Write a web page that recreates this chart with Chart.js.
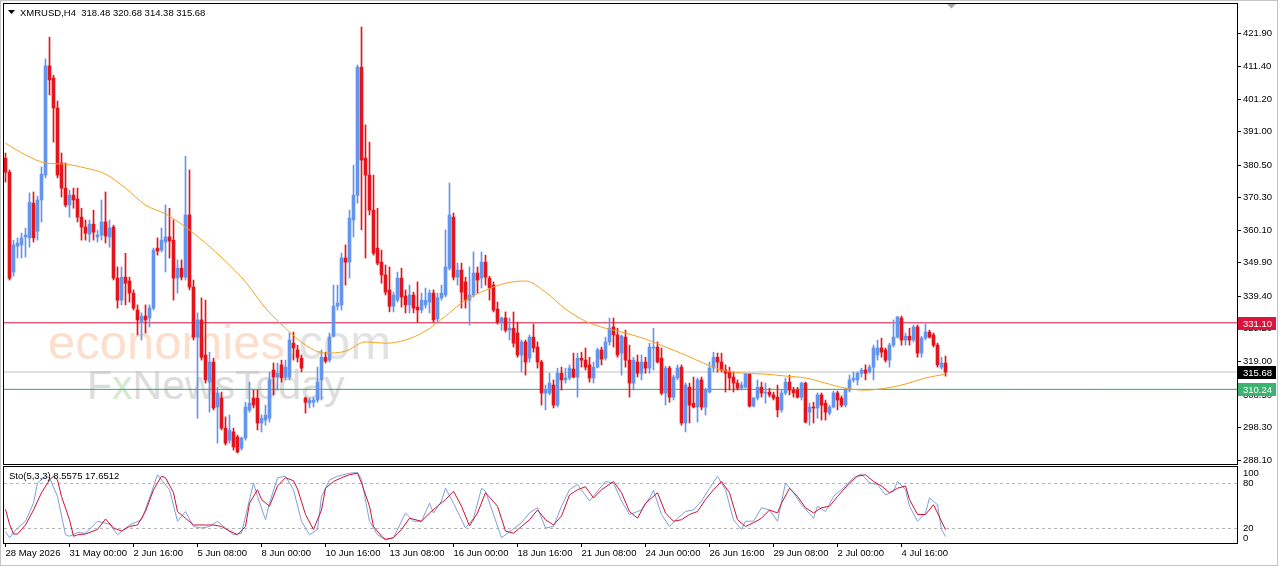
<!DOCTYPE html>
<html>
<head>
<meta charset="utf-8">
<title>XMRUSD H4</title>
<script src="https://cdn.jsdelivr.net/npm/chart.js@4.4.1/dist/chart.umd.min.js"></script>
<style>
  html, body { margin: 0; padding: 0; background: #fff; }
  #wrap { position: relative; width: 1280px; height: 567px; overflow: hidden; background: #fff; }
  #edge { position: absolute; left: 0; top: 0; width: 1276px; height: 564px; border: 1px solid #c4c4c4; z-index: 0; }
  #mainChart { position: absolute; left: 0; top: 0; z-index: 2; }
  #stochChart { position: absolute; left: 0; top: 464px; z-index: 2; }
  .mark { position: absolute; z-index: 1; white-space: nowrap; line-height: 1; font-family: "Liberation Sans", Arial, sans-serif; }
</style>
</head>
<body>
<div id="wrap">
  <div id="edge"></div>
  <div class="mark" style="left:48px; top:318px; font-size:49px; color:#fbdfcc;">economies<span style="color:#e2e2e2">.com</span></div>
  <div class="mark" style="left:87px; top:365px; font-size:41px; color:#dcdcdc;">F<span style="color:#d2e9d2">x</span>NewsToday</div>
  <canvas id="mainChart" width="1280" height="466"></canvas>
  <canvas id="stochChart" width="1280" height="103"></canvas>
</div>
<script>
// ---- candles (H4) ----
const candleOpen = [
  382.7, 378.3, 347.0, 355.1, 355.5, 358.0, 357.7, 368.6, 359.8, 369.6,
  377.4, 411.6, 407.8, 398.4, 381.2, 373.3, 368.0, 371.1, 369.9, 364.2,
  361.1, 358.9, 362.0, 358.0, 358.6, 362.7, 358.0, 361.1, 345.1, 338.2,
  345.4, 344.2, 340.4, 335.1, 331.3, 333.2, 332.6, 335.7, 354.5, 353.9,
  356.4, 358.0, 357.0, 345.1, 348.2, 345.4, 364.9, 342.3, 326.6, 332.0,
  321.0, 312.5, 318.8, 304.7, 307.5, 298.1, 294.3, 296.9, 295.3, 291.8,
  295.0, 303.7, 307.5, 307.5, 299.7, 300.6, 301.2, 316.3, 314.1, 317.9,
  314.1, 314.1, 324.7, 322.6, 320.0, 307.5, 305.9, 306.2, 306.9, 313.2,
  320.3, 319.4, 326.9, 336.3, 336.7, 351.4, 350.1, 363.3, 371.1, 411.2,
  382.7, 377.4, 366.4, 354.5, 350.1, 346.1, 341.4, 336.3, 338.2, 345.1,
  339.5, 336.7, 339.8, 336.0, 335.1, 336.7, 337.6, 340.4, 332.3, 338.9,
  339.8, 348.2, 364.2, 345.4, 347.6, 343.9, 338.2, 339.8, 346.7, 345.1,
  350.1, 345.1, 342.9, 335.4, 331.3, 332.6, 328.8, 329.4, 327.9, 321.0,
  325.1, 320.0, 326.6, 323.5, 318.8, 309.1, 309.1, 311.6, 305.3, 315.3,
  313.2, 313.8, 316.6, 314.1, 320.0, 319.4, 317.9, 313.8, 317.2, 322.6,
  320.0, 325.1, 329.8, 327.3, 321.6, 326.6, 319.4, 312.2, 318.8, 315.3,
  318.8, 316.9, 323.2, 323.5, 320.0, 309.1, 316.9, 307.8, 313.8, 317.2,
  299.7, 310.9, 305.9, 304.7, 313.2, 304.7, 309.4, 316.9, 320.3, 318.8,
  316.3, 315.7, 314.1, 312.2, 310.6, 310.9, 315.0, 305.0, 307.5, 310.9,
  309.1, 309.4, 308.5, 307.8, 303.8, 309.1, 312.5, 310.0, 310.0, 307.8,
  312.2, 303.1, 304.7, 304.4, 308.5, 305.9, 302.8, 304.7, 309.1, 307.5,
  305.3, 310.0, 313.2, 313.2, 315.3, 316.3, 315.7, 317.2, 321.0, 323.2,
  322.6, 319.4, 324.1, 326.6, 332.6, 325.7, 326.9, 325.7, 329.8, 321.6,
  326.3, 328.2, 327.3, 324.1, 317.2, 318.48
];
const candleHigh = [
  384.3, 379.0, 357.0, 357.7, 359.2, 360.8, 371.8, 372.1, 370.8, 379.9,
  413.8, 420.6, 408.7, 400.6, 384.3, 381.2, 372.7, 373.3, 373.3, 367.0,
  363.3, 363.3, 366.4, 360.2, 369.6, 372.1, 363.3, 361.7, 348.6, 348.6,
  352.9, 345.4, 341.4, 336.7, 334.2, 336.7, 336.7, 354.5, 357.7, 360.8,
  368.0, 367.0, 363.3, 350.8, 350.8, 383.3, 379.0, 344.5, 334.2, 338.9,
  338.2, 321.9, 320.0, 310.9, 309.4, 301.6, 302.2, 298.1, 295.9, 295.3,
  306.2, 312.5, 310.0, 310.0, 302.2, 305.3, 315.7, 318.5, 318.5, 319.4,
  319.4, 327.9, 328.2, 324.1, 321.0, 307.8, 307.5, 307.8, 317.2, 322.6,
  321.9, 327.9, 342.9, 342.9, 352.9, 355.5, 366.4, 380.5, 411.9, 423.8,
  393.1, 387.7, 377.4, 367.0, 353.9, 349.2, 348.6, 340.7, 347.0, 348.2,
  341.4, 342.9, 340.7, 343.9, 340.4, 342.0, 341.4, 341.4, 340.4, 342.9,
  360.2, 374.9, 365.5, 349.8, 349.8, 345.4, 348.6, 353.3, 348.6, 353.3,
  352.3, 345.7, 343.9, 337.6, 332.9, 334.5, 332.6, 334.5, 331.3, 325.7,
  325.7, 327.3, 330.7, 325.1, 319.4, 311.6, 315.3, 313.2, 316.9, 317.2,
  316.9, 317.9, 321.6, 321.6, 321.9, 323.2, 320.3, 318.8, 323.2, 323.5,
  326.6, 332.6, 332.6, 329.4, 327.3, 328.8, 324.1, 320.3, 321.0, 321.0,
  320.3, 324.7, 329.4, 325.1, 323.2, 317.5, 317.5, 314.7, 317.9, 317.9,
  312.2, 312.2, 314.1, 313.8, 314.1, 310.6, 318.8, 321.9, 321.6, 321.6,
  317.9, 317.2, 315.7, 313.2, 312.5, 315.3, 315.3, 307.8, 313.2, 312.5,
  312.2, 310.6, 309.4, 311.6, 310.0, 313.8, 314.7, 310.9, 310.9, 312.5,
  312.5, 305.9, 306.2, 309.1, 309.1, 306.9, 305.3, 309.7, 309.7, 308.2,
  310.6, 314.7, 315.7, 315.7, 316.9, 317.9, 317.9, 324.1, 325.7, 326.3,
  323.2, 324.7, 332.0, 333.2, 333.2, 327.9, 329.4, 330.4, 330.4, 326.9,
  330.7, 328.8, 327.9, 324.7, 320.3, 320.68
];
const candleLow = [
  375.2, 344.5, 345.7, 351.4, 351.4, 351.7, 354.8, 356.4, 357.0, 362.7,
  376.5, 402.5, 387.7, 376.5, 370.5, 367.4, 364.2, 367.0, 362.7, 357.0,
  357.0, 356.4, 357.0, 356.4, 357.0, 356.1, 354.8, 344.5, 335.7, 336.7,
  336.7, 337.6, 335.1, 327.3, 325.7, 327.9, 329.8, 335.1, 352.3, 353.3,
  347.0, 351.4, 338.2, 340.4, 344.5, 344.5, 341.4, 325.7, 301.2, 319.4,
  312.2, 303.1, 303.8, 293.4, 297.5, 292.8, 293.4, 291.2, 290.3, 291.2,
  294.3, 303.1, 304.4, 297.5, 296.9, 299.0, 300.0, 308.5, 310.0, 312.5,
  313.2, 313.2, 319.4, 318.8, 315.7, 302.8, 304.4, 304.7, 306.2, 306.9,
  318.5, 318.8, 326.6, 335.1, 335.1, 342.9, 345.1, 358.0, 368.6, 360.2,
  351.4, 364.9, 352.3, 349.2, 343.5, 339.8, 334.5, 334.5, 337.6, 336.0,
  334.2, 334.2, 334.2, 331.3, 334.2, 335.7, 334.2, 331.3, 331.0, 338.2,
  339.2, 347.6, 344.5, 342.9, 335.7, 335.7, 330.4, 339.2, 340.4, 342.0,
  342.9, 338.2, 334.5, 330.7, 328.8, 328.2, 325.7, 323.5, 320.3, 315.7,
  314.7, 318.8, 321.9, 316.9, 305.3, 303.8, 308.5, 304.4, 304.7, 310.0,
  312.2, 313.2, 313.8, 307.8, 317.2, 316.3, 312.5, 312.2, 316.9, 317.9,
  319.4, 324.1, 323.5, 320.3, 314.7, 317.2, 307.8, 310.0, 314.1, 313.2,
  315.3, 315.3, 316.3, 318.5, 308.5, 305.3, 306.2, 306.9, 313.2, 299.0,
  296.9, 299.7, 304.4, 300.0, 303.8, 302.2, 309.1, 315.7, 315.7, 315.7,
  309.4, 310.0, 309.4, 310.0, 310.0, 310.6, 304.7, 304.7, 306.9, 307.8,
  305.9, 307.8, 306.9, 301.6, 303.1, 308.5, 308.5, 307.8, 307.5, 306.9,
  299.7, 299.0, 299.7, 301.2, 300.6, 300.6, 302.2, 304.4, 303.8, 304.7,
  304.7, 309.4, 312.5, 311.6, 314.1, 313.2, 315.3, 313.2, 319.4, 320.3,
  318.8, 317.2, 323.5, 326.3, 324.1, 324.1, 324.1, 325.1, 320.3, 320.3,
  325.7, 326.3, 323.5, 317.2, 316.6, 314.38
];
const candleClose = [
  378.3, 345.1, 355.5, 356.1, 357.7, 358.6, 368.9, 357.7, 369.6, 377.7,
  411.6, 407.2, 398.4, 377.4, 373.3, 368.0, 371.1, 369.6, 364.2, 361.1,
  359.2, 362.0, 359.5, 358.6, 362.7, 358.3, 360.8, 345.1, 338.2, 345.4,
  343.5, 340.4, 335.7, 332.0, 333.2, 332.0, 335.7, 353.9, 353.6, 357.0,
  358.0, 356.7, 345.1, 348.2, 345.4, 364.9, 342.3, 326.6, 332.0, 320.3,
  313.2, 318.8, 304.4, 309.1, 298.1, 293.4, 297.5, 292.2, 290.6, 295.0,
  304.7, 305.9, 305.3, 299.7, 301.2, 302.2, 313.2, 314.1, 315.3, 313.8,
  317.2, 325.7, 323.2, 320.3, 316.9, 306.2, 306.9, 306.9, 312.5, 320.3,
  319.1, 326.6, 336.3, 337.3, 351.4, 350.1, 363.9, 371.1, 411.2, 382.1,
  377.4, 366.4, 352.9, 349.8, 346.1, 340.7, 336.3, 339.8, 345.1, 339.2,
  336.7, 339.8, 335.7, 335.1, 338.2, 338.2, 340.4, 332.0, 338.9, 340.4,
  348.6, 364.9, 345.4, 347.6, 340.7, 338.2, 339.8, 346.7, 344.5, 350.1,
  345.4, 342.0, 335.1, 331.3, 332.6, 328.8, 329.4, 324.7, 321.0, 325.1,
  318.8, 326.6, 323.2, 318.8, 309.1, 310.0, 312.2, 305.3, 315.3, 313.2,
  313.8, 316.9, 314.1, 320.0, 319.4, 317.2, 313.8, 317.2, 322.6, 319.7,
  325.1, 329.4, 327.3, 321.0, 326.9, 319.4, 312.2, 319.4, 315.3, 318.8,
  316.9, 323.5, 323.5, 318.8, 309.1, 316.9, 307.8, 314.1, 316.9, 299.7,
  311.6, 305.3, 304.7, 313.2, 304.7, 310.0, 316.9, 320.3, 318.8, 316.3,
  315.3, 313.8, 312.2, 310.6, 311.6, 315.0, 305.0, 307.5, 310.9, 309.1,
  309.4, 308.5, 307.5, 303.8, 309.1, 312.5, 310.0, 309.1, 307.8, 312.2,
  300.0, 304.7, 304.4, 308.5, 305.3, 303.1, 304.7, 309.1, 306.9, 305.3,
  310.0, 313.2, 313.8, 315.3, 316.3, 315.3, 317.2, 323.2, 323.2, 321.9,
  319.4, 324.1, 326.6, 332.9, 325.7, 326.9, 325.7, 329.8, 321.6, 326.3,
  328.2, 326.6, 324.1, 317.9, 318.5, 315.68
];

// ---- moving average (orange), sampled every 5 bars ----
const maIdx = [0, 5, 10, 15, 20, 25, 30, 35, 40, 45, 50, 55, 60, 65, 70, 75, 80, 85, 90, 95,
  100, 105, 110, 115, 120, 125, 130, 135, 140, 145, 150, 155, 160, 165, 170, 175, 180, 185, 190, 195,
  200, 205, 210, 215, 220, 225, 230, 235];
const maVal = [387.4, 383.7, 381.2, 380.8, 379.6, 377.7, 373.3, 368.0, 365.2, 361.1,
  356.1, 350.4, 343.9, 335.7, 329.4, 324.1, 321.6, 322.2, 325.1, 324.7,
  325.7, 328.5, 333.2, 338.2, 341.3, 343.5, 344.2, 340.7, 335.4, 331.6,
  329.4, 327.9, 326.0, 323.5, 321.0, 318.2, 316.0, 315.3, 315.0, 314.4,
  313.8, 312.2, 310.6, 310.0, 310.6, 311.9, 313.8, 315.0];

// ---- stochastic (5,3,3) ----
const kIdx = [0, 1, 3, 5, 7, 8, 10, 11, 13, 15, 16, 18, 20, 23, 26, 28, 31, 34, 36, 38,
  39, 41, 43, 45, 47, 49, 51, 53, 55, 57, 59, 62, 63, 65, 66, 68, 70, 72, 74, 76,
  78, 79, 81, 83, 86, 88, 89, 91, 93, 95, 97, 100, 102, 104, 106, 107, 109, 110, 112, 115,
  117, 119, 120, 122, 124, 126, 129, 131, 133, 135, 137, 139, 141, 143, 146, 148, 150, 152, 154, 156,
  158, 159, 161, 162, 164, 166, 168, 170, 172, 174, 176, 178, 180, 182, 184, 185, 187, 189, 191, 193,
  195, 197, 199, 202, 203, 205, 207, 210, 212, 214, 216, 218, 220, 222, 223, 225, 226, 228, 230, 231,
  233, 234, 235];
const kVal = [15, 7, 20, 29, 53, 80, 89, 87, 62, 11, 9, 14, 13, 29, 25, 11, 24, 31, 60, 91,
  84, 71, 29, 42, 22, 20, 22, 29, 20, 11, 13, 80, 62, 31, 53, 87, 89, 71, 29, 11,
  18, 62, 84, 89, 93, 94, 85, 29, 11, 4, 7, 40, 29, 29, 53, 40, 56, 73, 53, 20,
  33, 73, 69, 38, 7, 15, 27, 40, 47, 20, 22, 49, 71, 78, 56, 69, 82, 80, 56, 38,
  42, 44, 60, 70, 38, 22, 33, 42, 44, 56, 73, 89, 71, 31, 18, 29, 29, 47, 44, 29,
  80, 67, 51, 33, 49, 42, 62, 76, 87, 92, 80, 78, 64, 69, 82, 71, 49, 29, 40, 60,
  51, 18, 8.5575];
const dIdx = [0, 1, 2, 3, 5, 7, 9, 11, 12, 13, 14, 16, 17, 18, 20, 23, 25, 27, 29, 31,
  33, 35, 37, 39, 40, 42, 43, 45, 47, 50, 52, 54, 56, 58, 60, 61, 63, 64, 66, 68,
  70, 72, 73, 75, 77, 79, 80, 82, 84, 86, 88, 89, 91, 92, 94, 95, 97, 99, 101, 104,
  106, 108, 110, 112, 114, 116, 118, 120, 123, 125, 127, 129, 131, 133, 135, 137, 139, 141, 143, 145,
  147, 149, 152, 154, 156, 158, 160, 163, 165, 167, 169, 171, 173, 175, 177, 179, 181, 183, 185, 187,
  189, 191, 193, 194, 196, 198, 200, 202, 204, 206, 208, 211, 213, 215, 217, 219, 221, 223, 225, 226,
  228, 230, 232, 233, 235];
const dVal = [45, 25, 12, 12, 24, 44, 67, 84, 89, 84, 62, 31, 9, 11, 12, 18, 32, 20, 16, 22,
  24, 42, 71, 89, 87, 67, 42, 33, 24, 24, 24, 22, 16, 11, 22, 53, 71, 58, 49, 76,
  87, 83, 72, 38, 18, 44, 73, 82, 87, 91, 93, 80, 49, 22, 9, 5, 7, 18, 33, 29,
  40, 49, 58, 69, 49, 23, 40, 67, 49, 16, 13, 22, 31, 44, 31, 24, 36, 64, 71, 75,
  60, 71, 82, 67, 42, 33, 53, 67, 40, 29, 31, 38, 42, 58, 71, 82, 67, 31, 22, 27,
  33, 44, 40, 53, 73, 62, 47, 40, 47, 49, 62, 80, 89, 91, 82, 76, 67, 73, 76, 58,
  38, 38, 51, 40, 17.6512];

// ---- axes and levels ----
const priceTicks = [421.90, 411.40, 401.20, 391.00, 380.50, 370.30, 360.10, 349.90, 339.40, 329.20, 319.00, 308.50, 298.30, 288.10];
const timeTickIdx = [0, 16, 32, 48, 64, 80, 96, 112, 128, 144, 160, 176, 192, 208, 224];
const timeTickText = ['28 May 2026', '31 May 00:00', '2 Jun 16:00', '5 Jun 08:00', '8 Jun 00:00', '10 Jun 16:00',
  '13 Jun 08:00', '16 Jun 00:00', '18 Jun 16:00', '21 Jun 08:00', '24 Jun 00:00', '26 Jun 16:00',
  '29 Jun 08:00', '2 Jul 00:00', '4 Jul 16:00'];
const levelPrices = [331.10, 315.68, 310.24];
const stochLevels = [80, 20];
const stochLabels = [100, 80, 20, 0];
const headerText = 'XMRUSD,H4  318.48 320.68 314.38 315.68';
const stochText = 'Sto(5,3,3) 8.5575 17.6512';

// styles
const BULL = '#6495ed';
const BEAR = '#e3141b';
const levelLineColors = ['#dc143c', '#c0c0c0', '#2eaa5e'];
const levelBoxColors = ['#dc143c', '#000000', '#3cb371'];
const FONT = '"Liberation Sans", Arial, sans-serif';
const X_MIN = -0.375, X_MAX = 307.875;

Chart.defaults.font.family = FONT;
Chart.defaults.font.size = 9.5;
Chart.defaults.color = '#000';

const barIdx = candleOpen.map((_, i) => i);
const candleColors = barIdx.map(i => candleClose[i] >= candleOpen[i] ? BULL : BEAR);
const wickData = barIdx.map(i => ({ x: i, y: [candleLow[i], candleHigh[i]] }));
const bodyData = barIdx.map(i => ({ x: i, y: [candleOpen[i], candleClose[i]] }));
const maData = maIdx.map((x, j) => ({ x: x, y: maVal[j] }));
const kData = kIdx.map((x, j) => ({ x: x, y: kVal[j] }));
const dData = dIdx.map((x, j) => ({ x: x, y: dVal[j] }));

// horizontal price levels as line datasets across the whole axis range
const levelSets = levelPrices.map((p, k) => ({
    type: 'line',
    data: [{ x: X_MIN, y: p }, { x: X_MAX, y: p }],
    borderColor: levelLineColors[k],
    borderWidth: 1,
    pointRadius: 0
}));

function drawFrame(ctx, a) {
    ctx.strokeStyle = '#000';
    ctx.lineWidth = 1;
    ctx.strokeRect(a.left - 0.5, a.top - 0.5, a.right - a.left + 1, a.bottom - a.top + 1);
}

// price boxes, header
const mainDecor = {
    id: 'mainDecor',
    afterDraw(chart) {
        const { ctx, chartArea: a, scales: { y } } = chart;
        ctx.save();
        drawFrame(ctx, a);

        ctx.font = '9.5px ' + FONT;
        ctx.textBaseline = 'middle';
        levelPrices.forEach((p, k) => {
            const py = Math.round(y.getPixelForValue(p));
            ctx.fillStyle = levelBoxColors[k];
            ctx.fillRect(a.right + 1, py - 6, 38, 13);
            ctx.fillStyle = '#fff';
            ctx.fillText(p.toFixed(2), a.right + 6, py + 1);
        });

        // header line with the little dropdown arrow
        ctx.fillStyle = '#000';
        ctx.beginPath();
        ctx.moveTo(8, 10); ctx.lineTo(15, 10); ctx.lineTo(11.5, 14);
        ctx.closePath();
        ctx.fill();
        ctx.fillText(headerText, 20, 13);

        // chart shift marker
        ctx.fillStyle = '#a8a8a8';
        ctx.beginPath();
        ctx.moveTo(947, 4); ctx.lineTo(956, 4); ctx.lineTo(951.5, 8.5);
        ctx.closePath();
        ctx.fill();
        ctx.restore();
    }
};

const stochDecor = {
    id: 'stochDecor',
    beforeDatasetsDraw(chart) {
        const { ctx, chartArea: a, scales: { y } } = chart;
        ctx.save();
        ctx.strokeStyle = '#b4b4b4';
        ctx.lineWidth = 1;
        ctx.setLineDash([3, 3]);
        stochLevels.forEach(v => {
            const py = Math.round(y.getPixelForValue(v)) + 0.5;
            ctx.beginPath();
            ctx.moveTo(a.left, py);
            ctx.lineTo(a.right, py);
            ctx.stroke();
        });
        ctx.restore();
    },
    afterDraw(chart) {
        const { ctx, chartArea: a, scales: { y } } = chart;
        ctx.save();
        drawFrame(ctx, a);
        ctx.font = '9.5px ' + FONT;
        ctx.textBaseline = 'middle';
        ctx.fillStyle = '#000';
        stochLabels.forEach(v => {
            const py = Math.min(Math.max(y.getPixelForValue(v), a.top + 6), a.bottom - 5);
            ctx.fillText(String(v), a.right + 6, py + 0.5);
        });
        ctx.fillText(stochText, 9, a.top + 9);
        ctx.restore();
    }
};

// Main price chart: MA on top, then candle bodies, wicks, and the level lines underneath
new Chart(document.getElementById('mainChart'), {
    type: 'bar',
    data: {
        datasets: [
            {
                type: 'line',
                data: maData,
                borderColor: '#f5a11f',
                borderWidth: 1,
                pointRadius: 0,
                cubicInterpolationMode: 'monotone'
            },
            {
                data: bodyData,
                backgroundColor: candleColors,
                borderWidth: 0,
                barThickness: 3,
                minBarLength: 1,
                grouped: false
            },
            {
                data: wickData,
                backgroundColor: candleColors,
                borderWidth: 0,
                barThickness: 1,
                grouped: false
            },
            ...levelSets
        ]
    },
    options: {
        responsive: false,
        animation: false,
        devicePixelRatio: 1,
        events: [],
        layout: { padding: { left: 4, top: 4, right: 0, bottom: 2 } },
        plugins: { legend: { display: false }, tooltip: { enabled: false } },
        scales: {
            x: { type: 'linear', min: X_MIN, max: X_MAX, offset: false, display: false },
            y: {
                position: 'right',
                min: 286.85,
                max: 431.0,
                afterBuildTicks: s => { s.ticks = priceTicks.map(v => ({ value: v })); },
                afterFit: s => { s.width = 43; s.paddingTop = 0; s.paddingBottom = 0; },
                grid: { drawOnChartArea: false, drawTicks: true, tickLength: 4, color: '#000' },
                border: { display: true, color: '#000' },
                ticks: { padding: 2, autoSkip: false, color: '#000', callback: v => v.toFixed(2) }
            }
        }
    },
    plugins: [mainDecor]
});

// Stochastic panel with the time axis
new Chart(document.getElementById('stochChart'), {
    type: 'line',
    data: {
        datasets: [
            { data: dData, borderColor: '#cc1233', borderWidth: 1, pointRadius: 0 },
            { data: kData, borderColor: '#7f9fd8', borderWidth: 1, pointRadius: 0 }
        ]
    },
    options: {
        responsive: false,
        animation: false,
        devicePixelRatio: 1,
        events: [],
        layout: { padding: { left: 4, top: 3, right: 0, bottom: 0 } },
        plugins: { legend: { display: false }, tooltip: { enabled: false } },
        scales: {
            x: {
                type: 'linear',
                min: X_MIN,
                max: X_MAX,
                offset: false,
                afterBuildTicks: s => { s.ticks = timeTickIdx.map(v => ({ value: v })); },
                afterFit: s => { s.height = 24; s.paddingLeft = 0; s.paddingRight = 0; },
                grid: { drawOnChartArea: false, drawTicks: true, tickLength: 4, color: '#000' },
                border: { display: true, color: '#000' },
                ticks: {
                    align: 'start',
                    autoSkip: false,
                    maxRotation: 0,
                    padding: 1,
                    color: '#000',
                    callback: v => timeTickText[timeTickIdx.indexOf(v)]
                }
            },
            y: {
                position: 'right',
                min: 0,
                max: 101.3,
                ticks: { display: false },
                grid: { display: false },
                border: { display: false },
                afterFit: s => { s.width = 43; s.paddingTop = 0; s.paddingBottom = 0; }
            }
        }
    },
    plugins: [stochDecor]
});
</script>
</body>
</html>
